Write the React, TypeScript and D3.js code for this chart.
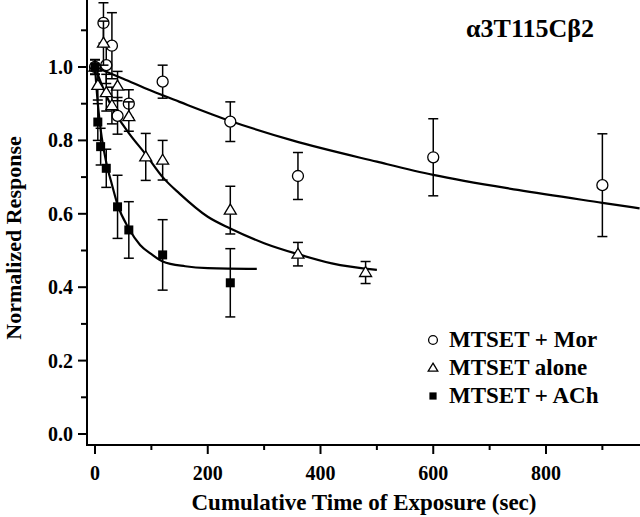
import { useMemo } from 'react';
import * as d3 from 'd3';

// data
const morTimes = [0, 15, 20, 30, 40, 60, 120, 240, 360, 600, 900];
const morValues = [1.0, 1.12, 1.005, 1.058, 0.867, 0.9, 0.96, 0.851, 0.703, 0.754, 0.678];
const morErrors = [0.02, 0.055, 0.05, 0.09, 0.05, 0.038, 0.045, 0.054, 0.064, 0.105, 0.14];

const aloneTimes = [0, 5, 15, 20, 30, 40, 60, 90, 120, 240, 360, 480];
const aloneValues = [1.0, 0.95, 1.065, 0.93, 0.895, 0.948, 0.865, 0.755, 0.746, 0.61, 0.49, 0.44];
const aloneErrors = [0.02, 0.04, 0.06, 0.05, 0.05, 0.04, 0.04, 0.064, 0.054, 0.065, 0.032, 0.03];

const achTimes = [0, 5, 10, 20, 40, 60, 120, 240];
const achValues = [1.0, 0.85, 0.783, 0.724, 0.619, 0.556, 0.488, 0.412];
const achErrors = [0.02, 0.05, 0.05, 0.052, 0.086, 0.077, 0.096, 0.093];

// fitted curves
const morFitT = [0, 50, 100, 150, 240, 350, 500, 600, 750, 900, 966];
const morFitV = [1.0, 0.968, 0.935, 0.905, 0.853, 0.8, 0.742, 0.706, 0.665, 0.63, 0.615];
const aloneFitT = [0, 15, 30, 60, 90, 120, 150, 200, 240, 300, 360, 420, 500];
const aloneFitV = [1.0, 0.94, 0.89, 0.82, 0.762, 0.7, 0.655, 0.592, 0.56, 0.52, 0.49, 0.465, 0.447];
const achFitT = [0, 5, 10, 20, 30, 40, 60, 80, 100, 120, 160, 200, 287];
const achFitV = [1.0, 0.9, 0.83, 0.74, 0.68, 0.625, 0.56, 0.515, 0.49, 0.47, 0.457, 0.452, 0.45];

const xTicks = [0, 200, 400, 600, 800];
const xMinor = [100, 300, 500, 700, 900];
const yTicks = [0, 0.2, 0.4, 0.6, 0.8, 1.0];
const yMinor = [0.1, 0.3, 0.5, 0.7, 0.9, 1.1];

const legendLabels = ['MTSET + Mor', 'MTSET alone', 'MTSET + ACh'];

const FONT = '"Liberation Serif", "Times New Roman", serif';

export default function App() {
  const width = 640;
  const height = 517;
  const axisX = 87;
  const axisY = 445;

  const { x, y, series, fits } = useMemo(() => {
    const x = d3.scaleLinear().domain([0, 800]).range([95, 546]);
    const y = d3.scaleLinear().domain([0, 1]).range([434, 67]);
    const zip = (t: number[], v: number[], e: number[]) =>
      t.map((tt, i) => ({ t: tt, v: v[i], e: e[i] }));
    const series = [
      { key: 'mor', pts: zip(morTimes, morValues, morErrors) },
      { key: 'alone', pts: zip(aloneTimes, aloneValues, aloneErrors) },
      { key: 'ach', pts: zip(achTimes, achValues, achErrors) },
    ];
    const line = d3
      .line<[number, number]>()
      .x((d) => x(d[0]))
      .y((d) => y(d[1]))
      .curve(d3.curveMonotoneX);
    const fits = [
      line(morFitT.map((t, i) => [t, morFitV[i]])) ?? '',
      line(aloneFitT.map((t, i) => [t, aloneFitV[i]])) ?? '',
      line(achFitT.map((t, i) => [t, achFitV[i]])) ?? '',
    ];
    return { x, y, series, fits };
  }, []);

  const marker = (key: string, cx: number, cy: number, s = 1) => {
    if (key === 'mor')
      return <circle cx={cx} cy={cy} r={5.5 * s} fill='#fff' stroke='#000' strokeWidth={1.3} />;
    if (key === 'alone') {
      const w = 6 * s;
      const h = 10 * s;
      return (
        <path
          d={`M${cx},${cy - h * 0.6}L${cx + w},${cy + h * 0.4}L${cx - w},${cy + h * 0.4}Z`}
          fill='#fff'
          stroke='#000'
          strokeWidth={1.3}
        />
      );
    }
    const a = 4.5 * s;
    return <rect x={cx - a} y={cy - a} width={a * 2} height={a * 2} fill='#000' />;
  };

  return (
    <svg
      width={width}
      height={height}
      style={{ position: 'fixed', left: 0, top: 0, background: '#fff' }}
      fontFamily={FONT}
      fontWeight='bold'
    >
      {/* fitted curves */}
      {fits.map((d, i) => (
        <path key={i} d={d} fill='none' stroke='#000' strokeWidth={2.2} />
      ))}

      {/* error bars + markers */}
      {series.map((s) => (
        <g key={s.key}>
          {s.pts.map((p, i) => {
            const cx = x(p.t);
            const y0 = y(p.v + p.e);
            const y1 = y(p.v - p.e);
            return (
              <g key={i} stroke='#000' strokeWidth={1.5}>
                <line x1={cx} x2={cx} y1={y0} y2={y1} />
                <line x1={cx - 5} x2={cx + 5} y1={y0} y2={y0} />
                <line x1={cx - 5} x2={cx + 5} y1={y1} y2={y1} />
              </g>
            );
          })}
          {s.pts.map((p, i) => (
            <g key={'m' + i}>{marker(s.key, x(p.t), y(p.v))}</g>
          ))}
        </g>
      ))}

      {/* axes */}
      <line x1={axisX} x2={axisX} y1={0} y2={axisY + 1} stroke='#000' strokeWidth={2} />
      <line x1={axisX - 1} x2={width} y1={axisY} y2={axisY} stroke='#000' strokeWidth={2} />
      {yTicks.map((t) => (
        <g key={t}>
          <line x1={axisX - 9} x2={axisX} y1={y(t)} y2={y(t)} stroke='#000' strokeWidth={2} />
          <text x={73} y={y(t)} dy='0.35em' textAnchor='end' fontSize={20}>
            {t.toFixed(1)}
          </text>
        </g>
      ))}
      {yMinor.map((t) => (
        <line key={t} x1={axisX - 6} x2={axisX} y1={y(t)} y2={y(t)} stroke='#000' strokeWidth={2} />
      ))}
      {xTicks.map((t) => (
        <g key={t}>
          <line x1={x(t)} x2={x(t)} y1={axisY} y2={axisY + 9} stroke='#000' strokeWidth={2} />
          <text x={x(t)} y={480} textAnchor='middle' fontSize={20}>
            {t}
          </text>
        </g>
      ))}
      {xMinor.map((t) => (
        <line key={t} x1={x(t)} x2={x(t)} y1={axisY} y2={axisY + 5} stroke='#000' strokeWidth={2} />
      ))}

      {/* axis titles */}
      <text x={364} y={510} textAnchor='middle' fontSize={23}>
        Cumulative Time of Exposure (sec)
      </text>
      <text
        transform='translate(21,238) rotate(-90)'
        textAnchor='middle'
        fontSize={22}
      >
        Normalized Response
      </text>

      {/* panel title */}
      <text x={530} y={37} textAnchor='middle' fontSize={26}>
        α3T115Cβ2
      </text>

      {/* legend */}
      {legendLabels.map((label, i) => (
        <g key={label}>
          {marker(series[i].key, 433, 340 + i * 28, 0.8)}
          <text x={449} y={347 + i * 28} fontSize={23}>
            {label}
          </text>
        </g>
      ))}
    </svg>
  );
}
